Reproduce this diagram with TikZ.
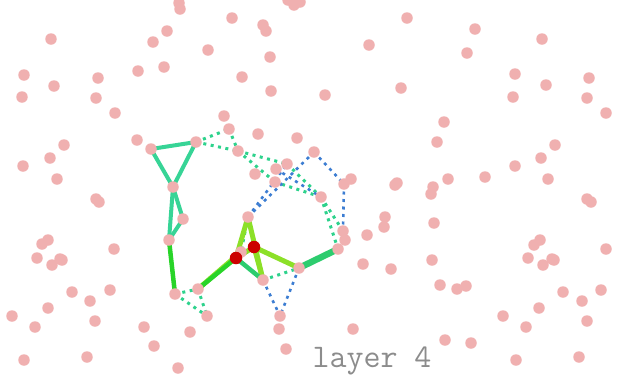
\documentclass[tikz,border=0pt]{standalone}
\usepackage{fontspec}
\definecolor{pinkc}{RGB}{240,176,176}
\definecolor{tealc}{RGB}{55,212,150}
\definecolor{greenc}{RGB}{40,212,40}
\definecolor{limec}{RGB}{140,224,40}
\definecolor{tgreenc}{RGB}{45,204,110}
\definecolor{tdotc}{RGB}{45,210,140}
\definecolor{bluec}{RGB}{60,125,210}
\definecolor{redc}{RGB}{204,0,0}
\definecolor{labelc}{RGB}{140,140,140}
\tikzset{
  pt/.style={circle, fill=pinkc, inner sep=0pt, minimum size=11.5pt},
  rd/.style={circle, fill=redc, inner sep=0pt, minimum size=12.5pt},
  tealsolid/.style={draw=tealc, line width=4pt},
  greensolid/.style={draw=greenc, line width=4.5pt},
  limesolid/.style={draw=limec, line width=5pt},
  tgsolid/.style={draw=tgreenc, line width=4.5pt},
  tgthick/.style={draw=tgreenc, line width=6.5pt},
  tdot/.style={draw=tdotc, line width=3pt, dash pattern=on 3pt off 4.5pt},
  bdot/.style={draw=bluec, line width=2.6pt, dash pattern=on 3pt off 4.5pt},
}
\begin{document}
\begin{tikzpicture}[x=1pt,y=-1pt]
\useasboundingbox (0,0) rectangle (618,376);
% graph coordinates
\coordinate (a) at (151,149);
\coordinate (b) at (196,142);
\coordinate (c) at (173,187);
\coordinate (d) at (183,219);
\coordinate (e) at (169,240);
\coordinate (f) at (175,294);
\coordinate (g) at (198,289);
\coordinate (h) at (207,316);
\coordinate (i) at (229,129);
\coordinate (j) at (238,151);
\coordinate (k) at (287,164);
\coordinate (kk) at (276,169);
\coordinate (l) at (275,182);
\coordinate (m) at (321,197);
\coordinate (n) at (343,231);
\coordinate (o) at (338,249);
\coordinate (p) at (314,152);
\coordinate (q) at (344,184);
\coordinate (r) at (248,217);
\coordinate (s) at (241,252);
\coordinate (R1) at (236,258);
\coordinate (R2) at (254,247);
\coordinate (t) at (263,280);
\coordinate (u) at (299,268);
\coordinate (v) at (280,316);
% dotted edges
\draw[tdot] (b) -- (i);
\draw[tdot] (i) -- (j);
\draw[tdot] (b) -- (j);
\draw[tdot] (j) -- (k);
\draw[tdot] (k) -- (m);
\draw[tdot] (j) -- (l);
\draw[tdot] (l) -- (m);
\draw[tdot] (m) -- (n);
\draw[tdot] (m) -- (o);
\draw[tdot] (r) -- (s);
\draw[tdot] (t) -- (u);
\draw[tdot] (f) -- (g);
\draw[tdot] (f) -- (h);
\draw[tdot] (g) -- (h);
\draw[bdot] (r) -- (k);
\draw[bdot] (r) -- (p);
\draw[bdot] (kk) -- (m);
\draw[bdot] (p) -- (q);
\draw[bdot] (q) -- (n);
\draw[bdot] (t) -- (v);
\draw[bdot] (u) -- (v);
% solid edges
\draw[tealsolid] (a) -- (b);
\draw[tealsolid] (a) -- (c);
\draw[tealsolid] (b) -- (c);
\draw[tealsolid] (c) -- (d);
\draw[tealsolid] (c) -- (e);
\draw[tealsolid] (d) -- (e);
\draw[greensolid] (e) -- (f);
\draw[limesolid] (s) -- (g);
\draw[greensolid] (R1) -- (g);
\draw[limesolid] (r) -- (R1);
\draw[limesolid] (r) -- (t);
\draw[limesolid] (R2) -- (u);
\draw[limesolid] (R1) -- (R2);
\draw[limesolid] (R2) -- (t);
\draw[tgsolid] (R1) -- (t);
\draw[tgthick] (u) -- (o);
% pink points
\foreach \x/\y [count=\ii] in {
51/39,24/75,54/86,22/97,98/78,96/98,115/113,138/71,164/67,153/42,167/31,179/3,180/9,208/50,137/140,64/145,50/158,23/166,57/179,
96/199,99/202,48/240,42/244,37/258,52/265,60/259,62/260,114/249,72/292,90/301,110/290,48/308,12/316,35/327,95/321,144/327,190/332,154/346,24/360,87/357,178/368,
232/18,263/25,266/31,270/57,242/77,271/91,325/95,288/0,294/5,300/2,
224/116,258/134,297/138,255/174,351/179,345/240,367/235,363/264,279/329,353/329,286/349,
407/18,369/45,475/29,467/53,542/39,515/74,546/85,513/97,589/78,587/98,606/113,401/88,444/122,437/142,555/145,541/158,515/166,548/179,485/177,448/179,433/187,397/183,395/185,
431/194,587/199,591/202,385/217,384/227,434/223,391/269,432/260,540/240,534/245,528/258,543/265,552/259,554/260,606/249,440/285,457/289,466/286,563/292,582/301,601/290,539/308,503/316,526/327,587/321,445/340,471/343,516/360,579/357}
  \node[pt] (bg\ii) at (\x,\y) {};
\foreach \c in {a,b,c,d,e,f,g,h,i,j,k,kk,l,m,n,o,p,q,r,s,t,u,v}
  \node[pt] (N\c) at (\c) {};
\node[rd] (red1) at (R1) {};
\node[rd] (red2) at (R2) {};
\node[font=\ttfamily\fontsize{33}{33}\selectfont, text=labelc, anchor=base, inner sep=0pt] (lbl) at (372,367) {layer 4};
\end{tikzpicture}
\end{document}
